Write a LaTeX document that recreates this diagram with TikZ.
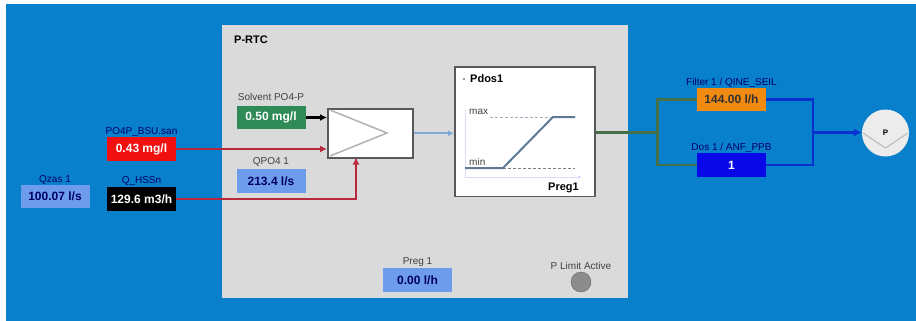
\documentclass[tikz,border=0pt]{standalone}
\usepackage{fontspec}
\setmainfont{Liberation Sans}
\usetikzlibrary{calc,positioning,arrows.meta}
\definecolor{plantblue}{HTML}{0880CC}
\definecolor{panelgray}{HTML}{DADADA}
\definecolor{valueblue}{HTML}{6E9CEC}
\definecolor{valuegreen}{HTML}{2E8B57}
\definecolor{valuered}{HTML}{F01010}
\definecolor{valueorange}{HTML}{F08A10}
\definecolor{valuedos}{HTML}{0808E8}
\definecolor{feedred}{HTML}{B8283C}
\definecolor{outolive}{HTML}{45704A}
\definecolor{outblue}{HTML}{0A30D0}
\definecolor{rampgray}{HTML}{5F7A96}
\definecolor{signalblue}{HTML}{80A8D8}
\tikzset{
  valuebox/.style={minimum width=69pt, minimum height=23.5pt, inner sep=0pt, font=\bfseries\fontsize{12}{13}\selectfont},
  taglabel/.style={inner sep=0pt, font=\fontsize{10}{11}\selectfont, text=#1},
  taglabel/.default=black!75,
  blockbox/.style={draw=black!65, line width=1.5pt, fill=white, anchor=north west},
  feedline/.style={feedred, line width=2.2pt, -{Latex[length=7pt,width=7pt]}},
  outline/.style={outolive, line width=2.2pt},
  dosline/.style={outblue, line width=2.5pt}
}
\begin{document}
\begin{tikzpicture}[x=1pt,y=-1pt]
  \useasboundingbox (0,0) rectangle (916,321);
  \fill[plantblue] (6,4) rectangle (916,321);
  \fill[panelgray] (222,25) rectangle (628,298);
  \node[anchor=west, inner sep=0pt, font=\bfseries\fontsize{11}{12}\selectfont] (title) at (234,40) {P-RTC};

  \node[valuebox, fill=valueblue, text=blue!40!black] (qzas) at (55,196.5) {100.07 l/s};
  \node[valuebox, fill=valuered, text=white] (po4p) at (141.5,149) {0.43 mg/l};
  \node[valuebox, fill=black, text=white] (qhss) at (141.5,199) {129.6 m3/h};
  \node[valuebox, fill=valuegreen, text=white] (solvent) at (271,117.5) {0.50 mg/l};
  \node[valuebox, fill=valueblue, text=blue!40!black] (qpo4) at (271,181) {213.4 l/s};
  \node[valuebox, fill=valueblue, text=blue!40!black] (preg) at (417.5,280) {0.00 l/h};
  \node[valuebox, fill=valueorange, text=black!80] (filter) at (731.5,99.5) {144.00 l/h};
  \node[valuebox, fill=valuedos, text=white] (dos) at (731.5,165) {1};

  \node[taglabel=blue!40!black, above=0pt of qzas] (qzaslabel) {Qzas 1};
  \node[taglabel=blue!40!black, above=0pt of po4p] (po4plabel) {PO4P\_BSU.san};
  \node[taglabel=blue!40!black, above=1pt of qhss] (qhsslabel) {Q\_HSSn};
  \node[taglabel, above=5pt of solvent] (solventlabel) {Solvent PO4-P};
  \node[taglabel, above=2pt of qpo4] (qpo4label) {QPO4 1};
  \node[taglabel, above=1pt of preg] (preglabel) {Preg 1};
  \node[taglabel=blue!40!black, above=0pt of filter] (filterlabel) {Filter 1 / QINE\_SEIL};
  \node[taglabel=blue!40!black, above=0pt of dos] (doslabel) {Dos 1 / ANF\_PPB};

  \node[blockbox, minimum width=85pt, minimum height=49pt] (adder) at (327,108) {};
  \draw[black!30, line width=1.5pt] (330,110) -- (387,133) -- (330,156);

  \node[blockbox, minimum width=140pt, minimum height=129pt] (pdos) at (454,66.5) {};
  \node[anchor=west, inner sep=0pt, font=\bfseries\fontsize{11}{12}\selectfont] (pdostitle) at (470,79) {Pdos1};
  \fill[black!50] (464,79) circle (1.2pt);
  \node[anchor=west, inner sep=0pt, font=\fontsize{10}{11}\selectfont, text=black!75] (maxlabel) at (469,112) {max};
  \node[anchor=west, inner sep=0pt, font=\fontsize{10}{11}\selectfont, text=black!75] (minlabel) at (469,162) {min};
  \node[anchor=east, inner sep=0pt, font=\bfseries\fontsize{11}{12}\selectfont] (pregaxis) at (579,188) {Preg1};
  \draw[rampgray!60, densely dashed, line width=1pt] (490,117) -- (575,117);
  \draw[black!50, densely dashed, line width=1pt] (503,168) -- (575,168);
  \draw[blue!15, line width=0.8pt, -{Latex[length=4pt,width=4pt]}] (465,177) -- (582,177);
  \draw[blue!15, line width=0.8pt] (465,110) -- (465,177);
  \draw[rampgray, line width=2pt] (465,168) -- (503,168) -- (553,117) -- (575,117);

  \node[circle, fill=black!45, draw=black!60, minimum size=20pt, inner sep=0pt] (limit) at (581,282) {};
  \node[taglabel, above=2pt of limit] (limitlabel) {P Limit Active};

  \node[circle, fill=panelgray!50!white, minimum size=47pt, inner sep=0pt, font=\bfseries\fontsize{8}{9}\selectfont] (pump) at (885.5,133) {P};
  \draw[black!25, line width=1.2pt] (863,133) -- (885.5,148) -- (908,133);

  \draw[black, line width=2.2pt, -{Latex[length=7pt,width=7pt]}] (solvent.east) -- (solvent.east-|adder.west);
  \draw[feedline] (po4p.east) -- (po4p.east-|adder.west);
  \coordinate (qhssin) at (356,157.5);
  \draw[feedline] (qhss.east) -| (qhssin);
  \draw[signalblue, line width=1.8pt, -{Latex[length=6pt,width=6pt]}] (adder.east) -- (adder.east-|pdos.west);

  \coordinate (branchout) at (657.5,132.5);
  \coordinate (branchdos) at (813,132.5);
  \draw[outline] (branchout-|pdos.east) -- (branchout);
  \draw[outline] (filter.west) -| (branchout) |- (dos.west);
  \draw[dosline] (filter.east) -| (branchdos) |- (dos.east);
  \draw[dosline, -{Latex[length=8pt,width=8pt]}] (branchdos) -- (branchdos-|pump.west);
\end{tikzpicture}
\end{document}
